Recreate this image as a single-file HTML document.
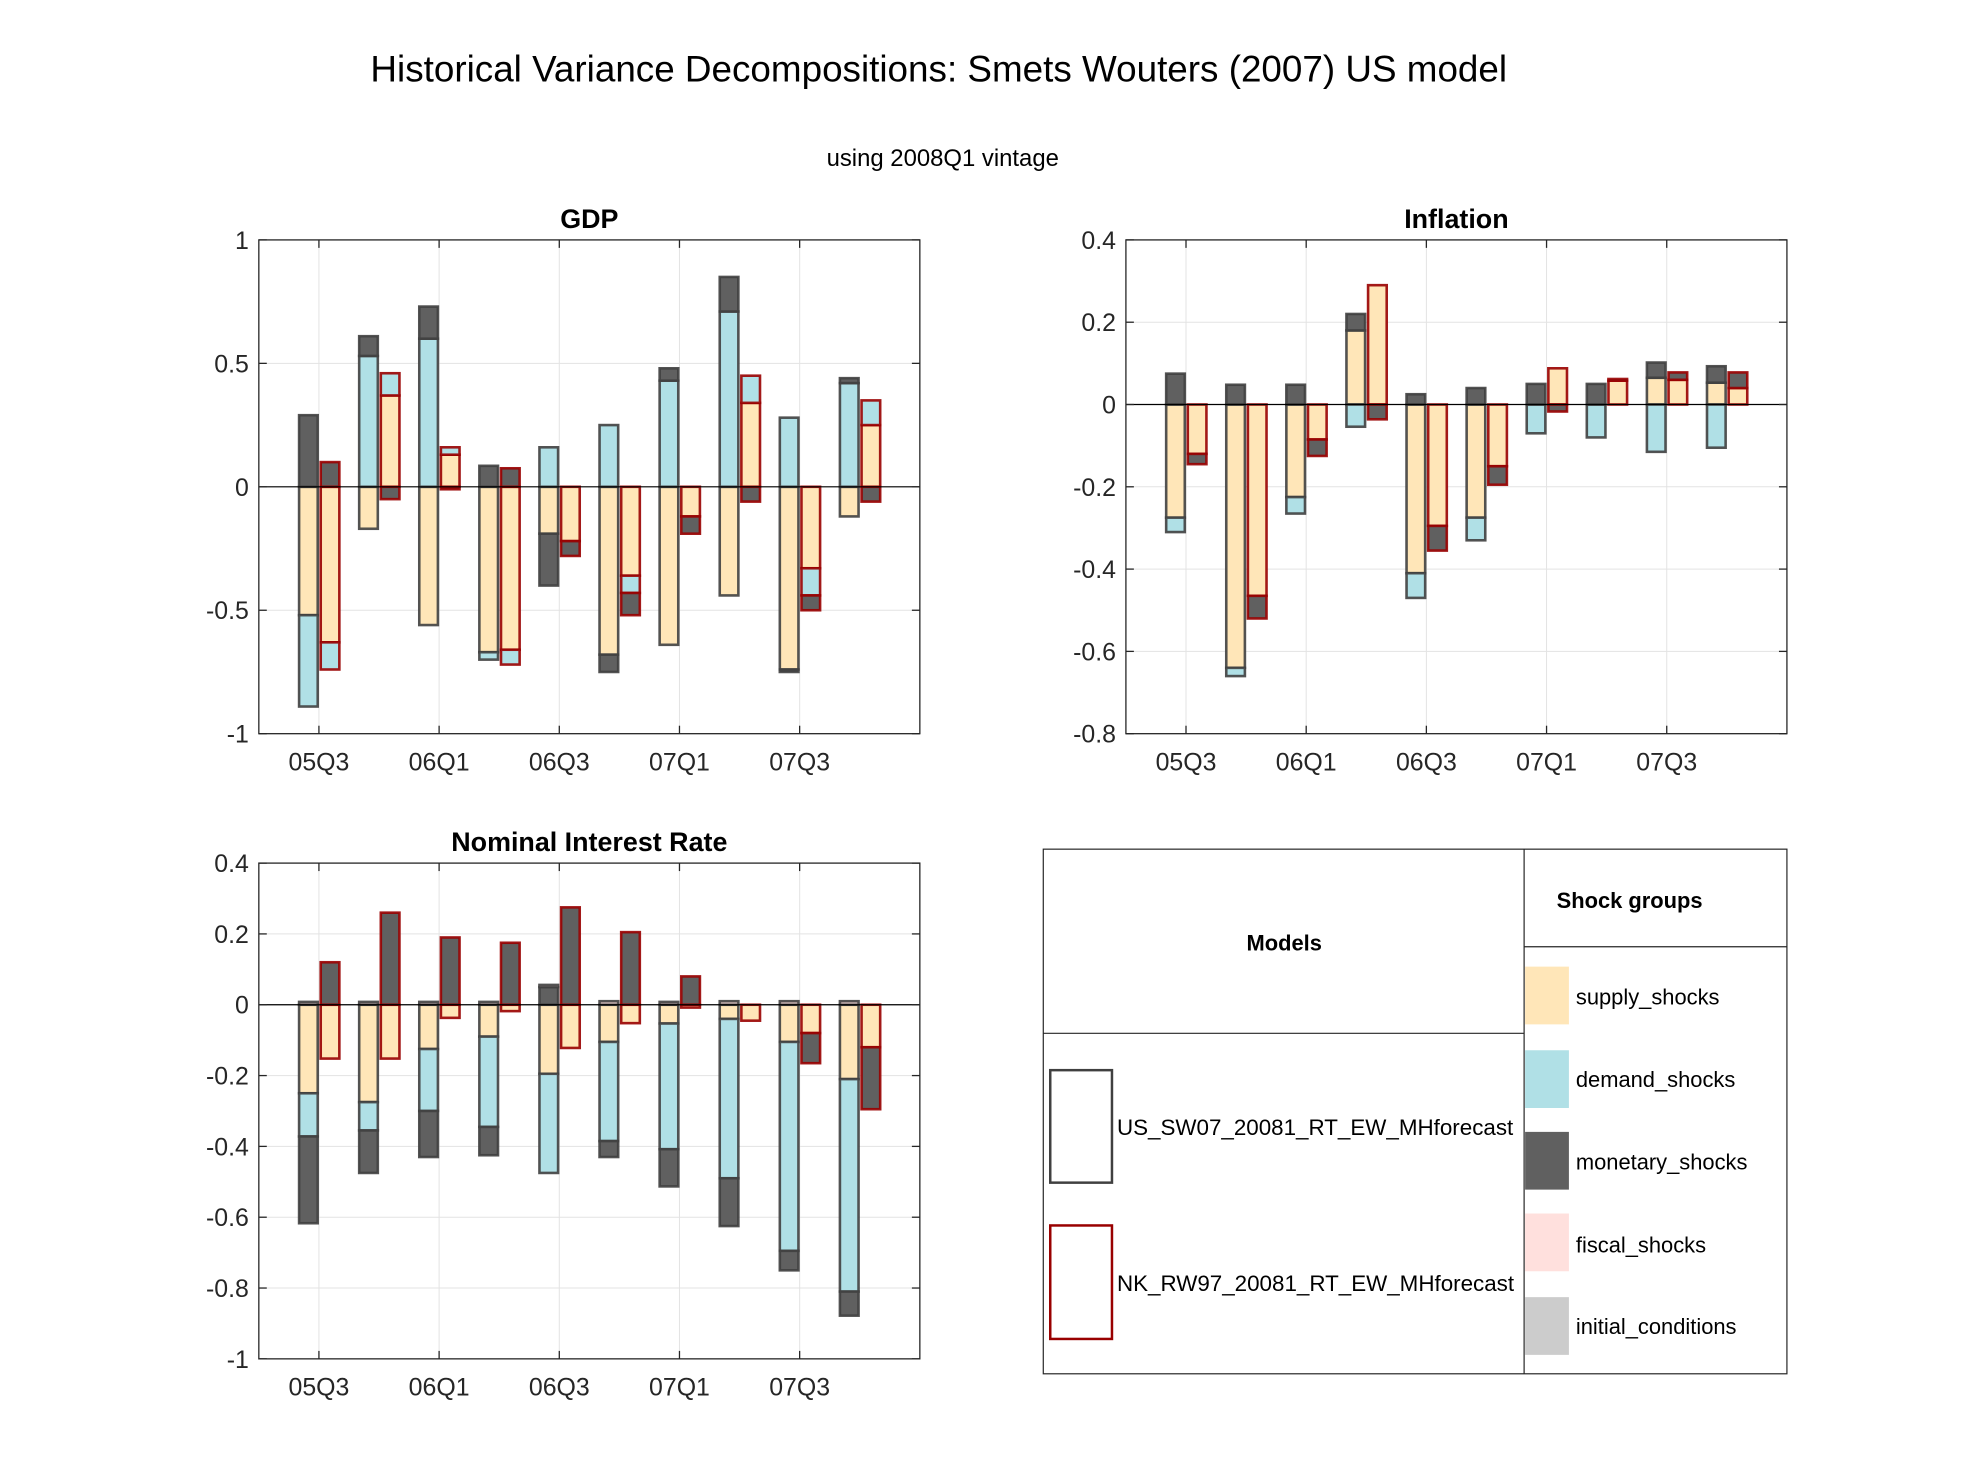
<!DOCTYPE html>
<html><head><meta charset="utf-8"><style>
body{margin:0;background:#fff;}
svg text{font-family:"Liberation Sans",Arial,sans-serif;fill:#262626;}
</style></head><body>
<svg id="fig" width="1975" height="1456" viewBox="0 0 1975 1456" xmlns="http://www.w3.org/2000/svg">
<rect width="1975" height="1456" fill="#fff"/>
<g transform="scale(0.9955)">
<text x="943" y="82" font-size="37" text-anchor="middle" style="fill:#000">Historical Variance Decompositions: Smets Wouters (2007) US model</text>
<text x="947" y="167" font-size="24" text-anchor="middle" style="fill:#000">using 2008Q1 vintage</text>
<g id="charts"></g>
<g>
<rect x="1048" y="853" width="747" height="527" fill="#fff" stroke="#262626" stroke-width="1.2"/>
<line x1="1531" y1="853" x2="1531" y2="1380" stroke="#262626" stroke-width="1.2"/>
<line x1="1531" y1="951" x2="1795" y2="951" stroke="#262626" stroke-width="1.2"/>
<line x1="1048" y1="1038" x2="1531" y2="1038" stroke="#262626" stroke-width="1.2"/>
<text x="1290" y="955" font-size="22" font-weight="bold" text-anchor="middle" style="fill:#000">Models</text>
<text x="1637" y="912" font-size="22" font-weight="bold" text-anchor="middle" style="fill:#000">Shock groups</text>
<rect x="1055" y="1075" width="62" height="113" fill="#fff" stroke="#404040" stroke-width="2.5"/>
<text x="1122" y="1140" font-size="22.5" style="fill:#000">US_SW07_20081_RT_EW_MHforecast</text>
<rect x="1055" y="1231" width="62" height="114" fill="#fff" stroke="#990000" stroke-width="2.5"/>
<text x="1122" y="1297" font-size="22.5" style="fill:#000">NK_RW97_20081_RT_EW_MHforecast</text>
<rect x="1532" y="971" width="44" height="58" fill="#FFE6B8"/>
<text x="1583" y="1009" font-size="22" style="fill:#000">supply_shocks</text>
<rect x="1532" y="1055" width="44" height="58" fill="#B0E0E6"/>
<text x="1583" y="1092" font-size="22" style="fill:#000">demand_shocks</text>
<rect x="1532" y="1137" width="44" height="58" fill="#606060"/>
<text x="1583" y="1175" font-size="22" style="fill:#000">monetary_shocks</text>
<rect x="1532" y="1219" width="44" height="58" fill="#FFE0DD"/>
<text x="1583" y="1258" font-size="22" style="fill:#000">fiscal_shocks</text>
<rect x="1532" y="1303" width="44" height="58" fill="#CCCCCC"/>
<text x="1583" y="1340" font-size="22" style="fill:#000">initial_conditions</text>
</g>
</g>
</svg>
<script>
const categories = ["05Q3","05Q4","06Q1","06Q2","06Q3","06Q4","07Q1","07Q2","07Q3","07Q4"];
const xTickLabels = ["05Q3","06Q1","06Q3","07Q1","07Q3"];
const shockNames = ["supply","demand","monetary","fiscal","initial"];
const shockColors = ["#FFE6B8","#B0E0E6","#606060","#FFE0DD","#CCCCCC"];

// GDP
const gdpTicks = [1,0.5,0,-0.5,-1];
const gdpUsSupply = [-0.52,-0.17,-0.56,-0.67,-0.19,-0.68,-0.64,-0.44,-0.74,-0.12];
const gdpUsDemand = [-0.37,0.53,0.60,-0.03,0.16,0.25,0.43,0.71,0.28,0.42];
const gdpUsMonetary = [0.29,0.08,0.13,0.085,-0.21,-0.07,0.05,0.14,-0.01,0.02];
const gdpNkSupply = [-0.63,0.37,0.13,-0.66,-0.22,-0.36,-0.12,0.34,-0.33,0.25];
const gdpNkDemand = [-0.11,0.09,0.03,-0.06,0,-0.07,0,0.11,-0.11,0.10];
const gdpNkMonetary = [0.10,-0.05,-0.01,0.075,-0.06,-0.09,-0.07,-0.06,-0.06,-0.06];

// Inflation
const infTicks = [0.4,0.2,0,-0.2,-0.4,-0.6,-0.8];
const infUsSupply = [-0.275,-0.64,-0.225,0.18,-0.41,-0.275,0,0,0.065,0.053];
const infUsDemand = [-0.035,-0.02,-0.04,-0.054,-0.06,-0.055,-0.07,-0.08,-0.115,-0.105];
const infUsMonetary = [0.075,0.048,0.048,0.04,0.025,0.04,0.05,0.05,0.037,0.04];
const infNkSupply = [-0.12,-0.465,-0.085,0.29,-0.295,-0.15,0.088,0.058,0.06,0.04];
const infNkDemand = [0,0,0,0,0,0,0,0,0,0];
const infNkMonetary = [-0.025,-0.055,-0.04,-0.036,-0.06,-0.045,-0.017,0.004,0.018,0.038];

// Nominal interest rate
const irTicks = [0.4,0.2,0,-0.2,-0.4,-0.6,-0.8,-1];
const irUsSupply = [-0.25,-0.275,-0.125,-0.09,-0.195,-0.105,-0.053,-0.04,-0.105,-0.21];
const irUsDemand = [-0.122,-0.08,-0.175,-0.255,-0.28,-0.28,-0.355,-0.45,-0.59,-0.60];
const irUsMonetary = [-0.245,-0.12,-0.13,-0.08,0.05,-0.045,-0.105,-0.135,-0.055,-0.068];
const irUsFiscal = [0.008,0.008,0.008,0.008,0.006,0.01,0.008,0.01,0.01,0.01];
const irNkSupply = [-0.152,-0.152,-0.037,-0.018,-0.122,-0.052,-0.008,-0.045,-0.08,-0.12];
const irNkDemand = [0,0,0,0,0,0,0,0,0,0];
const irNkMonetary = [0.12,0.26,0.19,0.175,0.275,0.205,0.08,0,-0.085,-0.175];

const NS = "http://www.w3.org/2000/svg";
const root = document.getElementById("charts");
function mk(tag, attrs, parent){const e=document.createElementNS(NS,tag);for(const k in attrs)e.setAttribute(k,attrs[k]);(parent||root).appendChild(e);return e;}

function drawChart(key, title, box, yMin, yMax, ticks, tickFmt, us, nk){
  const g = mk("g",{});
  
  
  const xs = v => box.x + (v - (-1)) / 11 * box.w;
  const ys = v => box.y + (yMax - v) / (yMax - yMin) * box.h;
  ticks.forEach(t=>{
    const l = mk("line",{x1:box.x,x2:box.x+box.w,y1:ys(t),y2:ys(t),stroke:"#e3e3e3","stroke-width":1},g);
    
    
  });
  xTickLabels.forEach(lbl=>{
    const i = categories.indexOf(lbl);
    const l = mk("line",{x1:xs(i),x2:xs(i),y1:box.y,y2:box.y+box.h,stroke:"#e3e3e3","stroke-width":1},g);
    
    
  });
  function drawSeries(series, off, stroke, model){
    categories.forEach((c,i)=>{
      let pos=0, neg=0;
      series.forEach((arr,s)=>{
        const v = arr[i];
        if(!v) return;
        let a,b;
        if(v>0){a=pos;b=pos+v;pos=b;}else{a=neg;b=neg+v;neg=b;}
        const x0 = xs(i+off), x1 = xs(i+off+0.31);
        const r = mk("rect",{x:x0,y:Math.min(ys(a),ys(b)),width:x1-x0,height:Math.abs(ys(a)-ys(b)),fill:shockColors[s],stroke:stroke,"stroke-width":2.6,"stroke-opacity":0.9},g);
        
        
      });
    });
  }
  drawSeries(us, -0.33, "#404040", "us-sw07");
  drawSeries(nk, 0.03, "#990000", "nk-rw97");
  const z = mk("line",{x1:box.x,x2:box.x+box.w,y1:ys(0),y2:ys(0),stroke:"#000","stroke-width":1.2},g);
  
  
  const fr = mk("rect",{x:box.x,y:box.y,width:box.w,height:box.h,fill:"none",stroke:"#262626","stroke-width":1.3},g);
  
  
  ticks.forEach(t=>{
    mk("line",{x1:box.x,x2:box.x+8,y1:ys(t),y2:ys(t),stroke:"#262626","stroke-width":1.3},g);
    mk("line",{x1:box.x+box.w-8,x2:box.x+box.w,y1:ys(t),y2:ys(t),stroke:"#262626","stroke-width":1.3},g);
    const tx = mk("text",{x:box.x-10,y:ys(t)+9,"font-size":25,"text-anchor":"end"},g);
    tx.textContent = tickFmt(t);
    
    
  });
  xTickLabels.forEach(lbl=>{
    const i = categories.indexOf(lbl);
    mk("line",{x1:xs(i),x2:xs(i),y1:box.y+box.h-8,y2:box.y+box.h,stroke:"#262626","stroke-width":1.3},g);
    mk("line",{x1:xs(i),x2:xs(i),y1:box.y,y2:box.y+8,stroke:"#262626","stroke-width":1.3},g);
    const tx = mk("text",{x:xs(i),y:box.y+box.h+37,"font-size":25,"text-anchor":"middle"},g);
    tx.textContent = lbl;
    
    
  });
  const tt = mk("text",{x:box.x+box.w/2,y:box.y-12,"font-size":27,"font-weight":"bold","text-anchor":"middle",style:"fill:#000"},g);
  tt.textContent = title;
  
  
}
const fmt1 = t => String(t);
drawChart("gdp","GDP",{x:260,y:241,w:664,h:496},-1,1,gdpTicks,fmt1,
  [gdpUsSupply,gdpUsDemand,gdpUsMonetary],[gdpNkSupply,gdpNkDemand,gdpNkMonetary]);
drawChart("inflation","Inflation",{x:1131,y:241,w:664,h:496},-0.8,0.4,infTicks,fmt1,
  [infUsSupply,infUsDemand,infUsMonetary],[infNkSupply,infNkDemand,infNkMonetary]);
drawChart("interest-rate","Nominal Interest Rate",{x:260,y:867,w:664,h:498},-1,0.4,irTicks,fmt1,
  [irUsSupply,irUsDemand,irUsMonetary,irUsFiscal],[irNkSupply,irNkDemand,irNkMonetary]);
</script>
</body></html>
